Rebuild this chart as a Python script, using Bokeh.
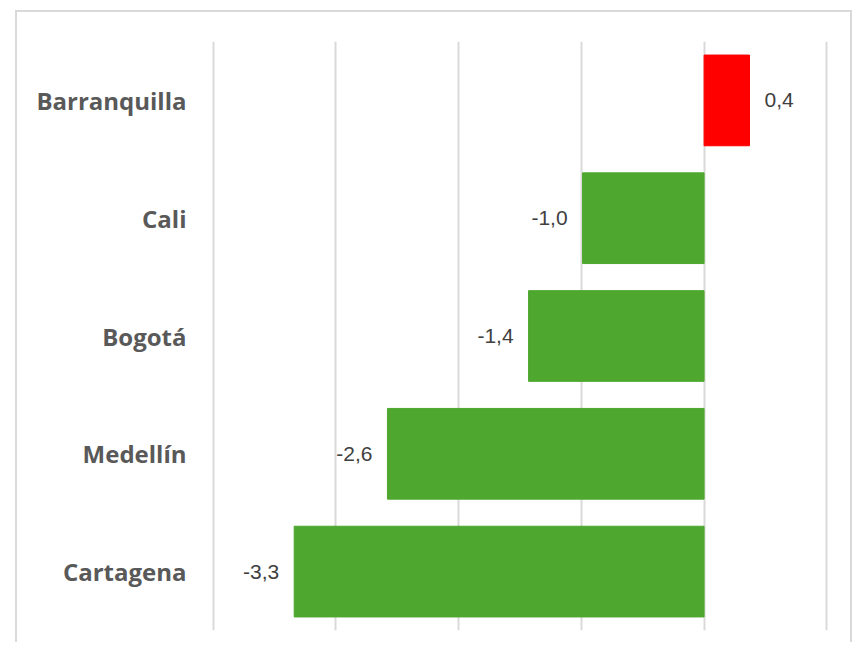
from bokeh.plotting import figure
from bokeh.models import ColumnDataSource, FactorRange, FixedTicker
from bokeh.core.properties import value
from bokeh.embed import file_html
from bokeh.resources import INLINE

cities = ["Barranquilla", "Cali", "Bogotá", "Medellín", "Cartagena"]
values = [0.37, -0.99, -1.43, -2.58, -3.34]
colors = ["#FF0000", "#4EA72E", "#4EA72E", "#4EA72E", "#4EA72E"]
labels = [f"{v:.1f}".replace(".", ",") for v in values]
grid_ticks = [-4, -3, -2, -1, 0, 1]

src = ColumnDataSource(dict(
    city=cities, val=values, color=colors, label=labels,
    align=["left" if v >= 0 else "right" for v in values],
    off=[15 if v >= 0 else -15 for v in values],
))

p = figure(
    width=837, height=632,
    y_range=FactorRange(factors=list(reversed(cities))),
    x_range=(-4.03, 1.03),
    output_backend="svg", toolbar_location=None,
    min_border_left=192, min_border_right=24,
    min_border_top=29, min_border_bottom=14,
)
p.margin = (10, 0, 0, 15)
p.styles = {"border-top": "2px solid #d9d9d9", "border-left": "2px solid #d9d9d9",
            "border-right": "2px solid #d9d9d9"}
p.outline_line_color = None
p.background_fill_color = "white"
p.border_fill_color = "white"

p.hbar(y="city", left=0, right="val", height=0.77, color="color", source=src)
p.text(x="val", y="city", text="label", x_offset="off", text_align="align",
       text_baseline="middle", text_font=value("Liberation Sans"),
       text_font_size="21px", text_color="#404040", source=src)

p.xaxis.visible = False
p.xgrid.ticker = FixedTicker(ticks=grid_ticks)
p.xgrid.grid_line_color = "#d9d9d9"
p.xgrid.grid_line_width = 2
p.ygrid.grid_line_color = None

ya = p.yaxis[0]
ya.axis_line_color = None
ya.major_tick_line_color = None
ya.minor_tick_line_color = None
ya.major_label_standoff = 17
ya.major_label_text_font = "Open Sans"
ya.major_label_text_font_style = "bold"
ya.major_label_text_font_size = "24px"
ya.major_label_text_color = "#595959"

open("out.html", "w").write(file_html(p, INLINE))
